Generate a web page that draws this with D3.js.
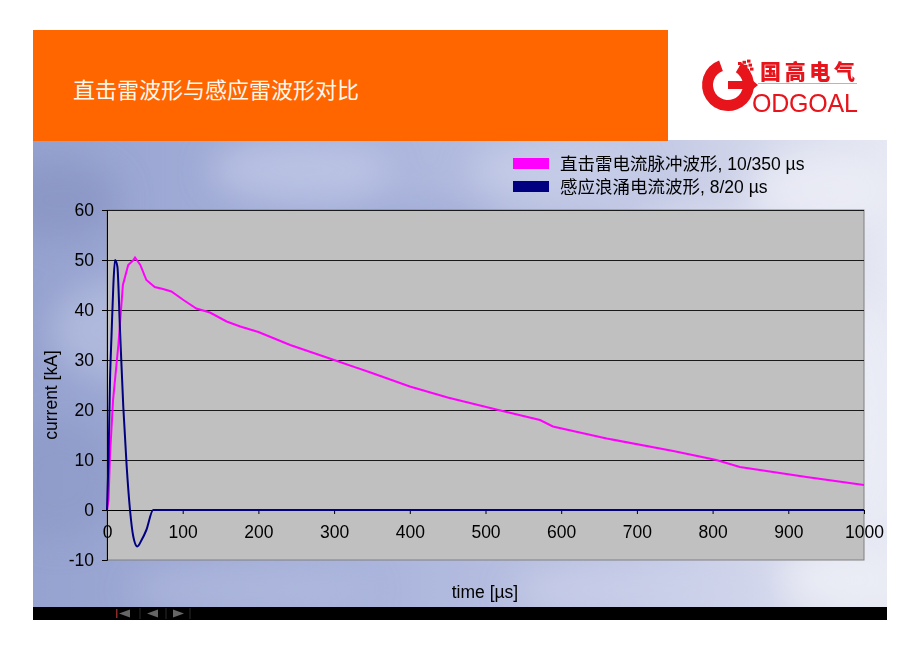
<!DOCTYPE html>
<html>
<head>
<meta charset="utf-8">
<script src="https://cdn.jsdelivr.net/npm/d3@7"></script>
<style>
  html, body { margin: 0; padding: 0; background: #ffffff; }
  svg { display: block; }
</style>
</head>
<body>
<svg id="chart" width="920" height="651"></svg>
<script>
// ---------------- DATA ----------------
const titleText = "直击雷波形与感应雷波形对比";
const seriesNames = ["直击雷电流脉冲波形, 10/350 µs", "感应浪涌电流波形, 8/20 µs"];
const seriesColors = ["#ff00ff", "#000080"];

// 10/350 µs direct lightning current (time µs, current kA)
const directTime    = [0, 2, 4, 8, 15, 21, 28, 35, 37, 44, 52, 63, 74, 85, 101, 118, 136, 158, 176, 200, 242, 300, 350, 400, 450, 517, 572, 589, 660, 748, 805, 836, 924, 1000];
const directCurrent = [0, 2, 11, 22, 33, 45, 49, 50, 50.5, 49, 46, 44.6, 44.2, 43.7, 42, 40.3, 39.5, 37.7, 36.7, 35.6, 33, 30, 27.4, 24.7, 22.5, 20, 18, 16.7, 14.3, 11.8, 10, 8.6, 6.6, 5];

// 8/20 µs induced surge current
const inducedTime    = [0, 2, 4, 6, 8.4, 10.6, 13.7, 17, 21.5, 26, 30.4, 34.7, 40, 45.7, 52, 61, 1000];
const inducedCurrent = [0, 10, 26, 35, 45, 50, 48.7, 36.7, 20.7, 8.7, 0, -5.3, -7.3, -6, -4, 0, 0];

const xTicks = [0, 100, 200, 300, 400, 500, 600, 700, 800, 900, 1000];
const yTicks = [-10, 0, 10, 20, 30, 40, 50, 60];
const xTitle = "time [µs]";
const yTitle = "current [kA]";

// ---------------- DRAW ----------------
const svg = d3.select("#chart");
const defs = svg.append("defs");

// slide background gradient
const bg = defs.append("linearGradient").attr("id", "bgGrad").attr("x1", "0").attr("y1", "0").attr("x2", "1").attr("y2", "0");
bg.append("stop").attr("offset", "0%").attr("stop-color", "#96a2cf");
bg.append("stop").attr("offset", "35%").attr("stop-color", "#a7b2db");
bg.append("stop").attr("offset", "70%").attr("stop-color", "#c0c6e3");
bg.append("stop").attr("offset", "100%").attr("stop-color", "#e6e8f3");

const blur = defs.append("filter").attr("id", "cloudBlur").attr("x", "-50%").attr("y", "-50%").attr("width", "200%").attr("height", "200%");
blur.append("feGaussianBlur").attr("stdDeviation", 16);

const clip = defs.append("clipPath").attr("id", "slideClip");
clip.append("rect").attr("x", 33).attr("y", 140).attr("width", 854).attr("height", 468);

// Slide background
svg.append("rect").attr("x", 33).attr("y", 140).attr("width", 854).attr("height", 468).attr("fill", "url(#bgGrad)");
const clouds = svg.append("g").attr("clip-path", "url(#slideClip)").attr("filter", "url(#cloudBlur)");
const cloudSpots = [
  [60, 200, 60, 40, "#8591c0", 0.6], [120, 330, 70, 50, "#c4cbe8", 0.5], [60, 480, 60, 60, "#8a96c4", 0.5],
  [300, 170, 90, 30, "#c8cfea", 0.6], [420, 230, 80, 30, "#97a3d2", 0.5], [560, 170, 90, 30, "#cdd3ec", 0.6],
  [700, 250, 90, 40, "#e2e5f3", 0.6], [820, 190, 70, 40, "#eef0f7", 0.7], [860, 420, 40, 120, "#eceef6", 0.7],
  [250, 590, 120, 25, "#b8c0e2", 0.5], [650, 590, 140, 25, "#cfd4ec", 0.6], [840, 580, 60, 30, "#f0f1f7", 0.7]
];
clouds.selectAll("ellipse").data(cloudSpots).join("ellipse")
  .attr("cx", d => d[0]).attr("cy", d => d[1]).attr("rx", d => d[2]).attr("ry", d => d[3])
  .attr("fill", d => d[4]).attr("opacity", d => d[5]);

// Bottom black bar with nav buttons
svg.append("rect").attr("x", 33).attr("y", 607).attr("width", 854).attr("height", 13).attr("fill", "#000");
const nav = svg.append("g").attr("fill", "#666");
nav.append("rect").attr("x", 116).attr("y", 609).attr("width", 1.5).attr("height", 9).attr("fill", "#8a2a2a");
nav.append("path").attr("d", "M119,613.5 L130,609.5 L130,617.5 Z");
nav.append("path").attr("d", "M147,613.5 L158,609.5 L158,617.5 Z");
nav.append("path").attr("d", "M184,613.5 L173,609.5 L173,617.5 Z");
nav.selectAll("line.sep").data([140, 166, 190]).join("line").attr("class", "sep")
  .attr("x1", d => d).attr("x2", d => d).attr("y1", 608).attr("y2", 619).attr("stroke", "#2a2a2a");

// Orange title banner
svg.append("rect").attr("x", 33).attr("y", 30).attr("width", 635).attr("height", 111).attr("fill", "#ff6600");
svg.append("text").attr("x", 73).attr("y", 98)
  .attr("font-family", "'Noto Sans CJK SC', sans-serif").attr("font-size", 22)
  .attr("fill", "#fff8ee").text(titleText);

// Logo
const logo = svg.append("g");
logo.append("path")
  .attr("d", d3.arc()({innerRadius: 15, outerRadius: 26, startAngle: 0.55, endAngle: 2 * Math.PI - 0.35}))
  .attr("transform", "translate(728,85)")
  .attr("fill", "#e8141c");
// G bar + arrow
logo.append("path").attr("d", "M728,81 L745,81 L745,74 L758,85 L745,96 L745,89 L728,89 Z").attr("fill", "#e8141c");
// small grid squares
const gsq = [];
for (let r = 0; r < 3; r++) for (let c = 0; c < 3; c++) gsq.push([738 + c * 4.5 + r * 1.5, 62 + r * 4 - c * 1.2]);
logo.selectAll("rect.sq").data(gsq).join("rect").attr("class", "sq")
  .attr("x", d => d[0]).attr("y", d => d[1]).attr("width", 3.5).attr("height", 3).attr("fill", "#e8141c");
logo.append("text").attr("x", 760).attr("y", 79)
  .attr("font-family", "'Noto Sans CJK SC', sans-serif").attr("font-weight", 900)
  .attr("font-size", 21).attr("fill", "#e8141c").attr("textLength", 95).text("国高电气");
logo.append("line").attr("x1", 758).attr("x2", 857).attr("y1", 83.5).attr("y2", 83.5)
  .attr("stroke", "#f0a090").attr("stroke-width", 1);
logo.append("text").attr("x", 752).attr("y", 112)
  .attr("font-family", "'Liberation Sans', Arial, sans-serif").attr("font-size", 25)
  .attr("fill", "#e8141c").attr("textLength", 106).text("ODGOAL");

// ---------------- CHART ----------------
const plot = {left: 107, right: 864, top: 210, bottom: 560};
const x = d3.scaleLinear().domain([0, 1000]).range([plot.left, plot.right]);
const y = d3.scaleLinear().domain([-10, 60]).range([plot.bottom, plot.top]);

const font = "'Liberation Sans', Arial, sans-serif";
const fmt = d => String(d);

// plot area
svg.append("rect").attr("x", plot.left).attr("y", plot.top)
  .attr("width", plot.right - plot.left).attr("height", plot.bottom - plot.top)
  .attr("fill", "#c0c0c0").attr("stroke", "#808080").attr("stroke-width", 1);

// gridlines
svg.append("g").selectAll("line").data(yTicks.filter(v => v !== 0 && v !== -10)).join("line")
  .attr("x1", plot.left).attr("x2", plot.right)
  .attr("y1", d => y(d) + 0.5).attr("y2", d => y(d) + 0.5)
  .attr("stroke", "#1a1a1a").attr("stroke-width", 1);

// y axis
const yAxis = svg.append("g").attr("transform", `translate(${plot.left},0)`)
  .call(d3.axisLeft(y).tickValues(yTicks).tickSize(5).tickPadding(8).tickFormat(fmt));
yAxis.select(".domain").attr("stroke", "#000");
yAxis.selectAll(".tick line").attr("stroke", "#000");
yAxis.selectAll("text").attr("font-family", font).attr("font-size", 17.5).attr("fill", "#000");

// x axis at y = 0
const xAxis = svg.append("g").attr("transform", `translate(0,${y(0)})`)
  .call(d3.axisBottom(x).tickValues(xTicks).tickSize(4).tickPadding(12).tickFormat(fmt));
xAxis.select(".domain").attr("stroke", "#000");
xAxis.selectAll(".tick line").attr("stroke", "#000");
xAxis.selectAll("text").attr("font-family", font).attr("font-size", 17.5).attr("fill", "#000");

// series
const direct = directTime.map((t, i) => [t, directCurrent[i]]);
const induced = inducedTime.map((t, i) => [t, inducedCurrent[i]]);

svg.append("path").datum(direct)
  .attr("d", d3.line().x(d => x(d[0])).y(d => y(d[1])).curve(d3.curveLinear))
  .attr("fill", "none").attr("stroke", seriesColors[0]).attr("stroke-width", 2);

svg.append("path").datum(induced)
  .attr("d", d3.line().x(d => x(d[0])).y(d => y(d[1])).curve(d3.curveMonotoneX))
  .attr("fill", "none").attr("stroke", seriesColors[1]).attr("stroke-width", 2);

// axis titles
svg.append("text").attr("transform", `translate(57,${(plot.top + plot.bottom) / 2 + 10}) rotate(-90)`)
  .attr("text-anchor", "middle").attr("font-family", font).attr("font-size", 17.5).attr("fill", "#000")
  .text(yTitle);
svg.append("text").attr("x", 485).attr("y", 598)
  .attr("text-anchor", "middle").attr("font-family", font).attr("font-size", 17.5).attr("fill", "#000")
  .text(xTitle);

// legend
const legend = svg.append("g");
seriesNames.forEach((name, i) => {
  const yy = 158 + i * 23;
  legend.append("rect").attr("x", 513).attr("y", yy).attr("width", 36).attr("height", 11).attr("fill", seriesColors[i]);
  legend.append("text").attr("x", 560).attr("y", yy + 12)
    .attr("font-family", "'Liberation Sans', 'Noto Sans CJK SC', sans-serif").attr("font-size", 17.5)
    .attr("fill", "#000").text(name);
});
</script>
</body>
</html>
